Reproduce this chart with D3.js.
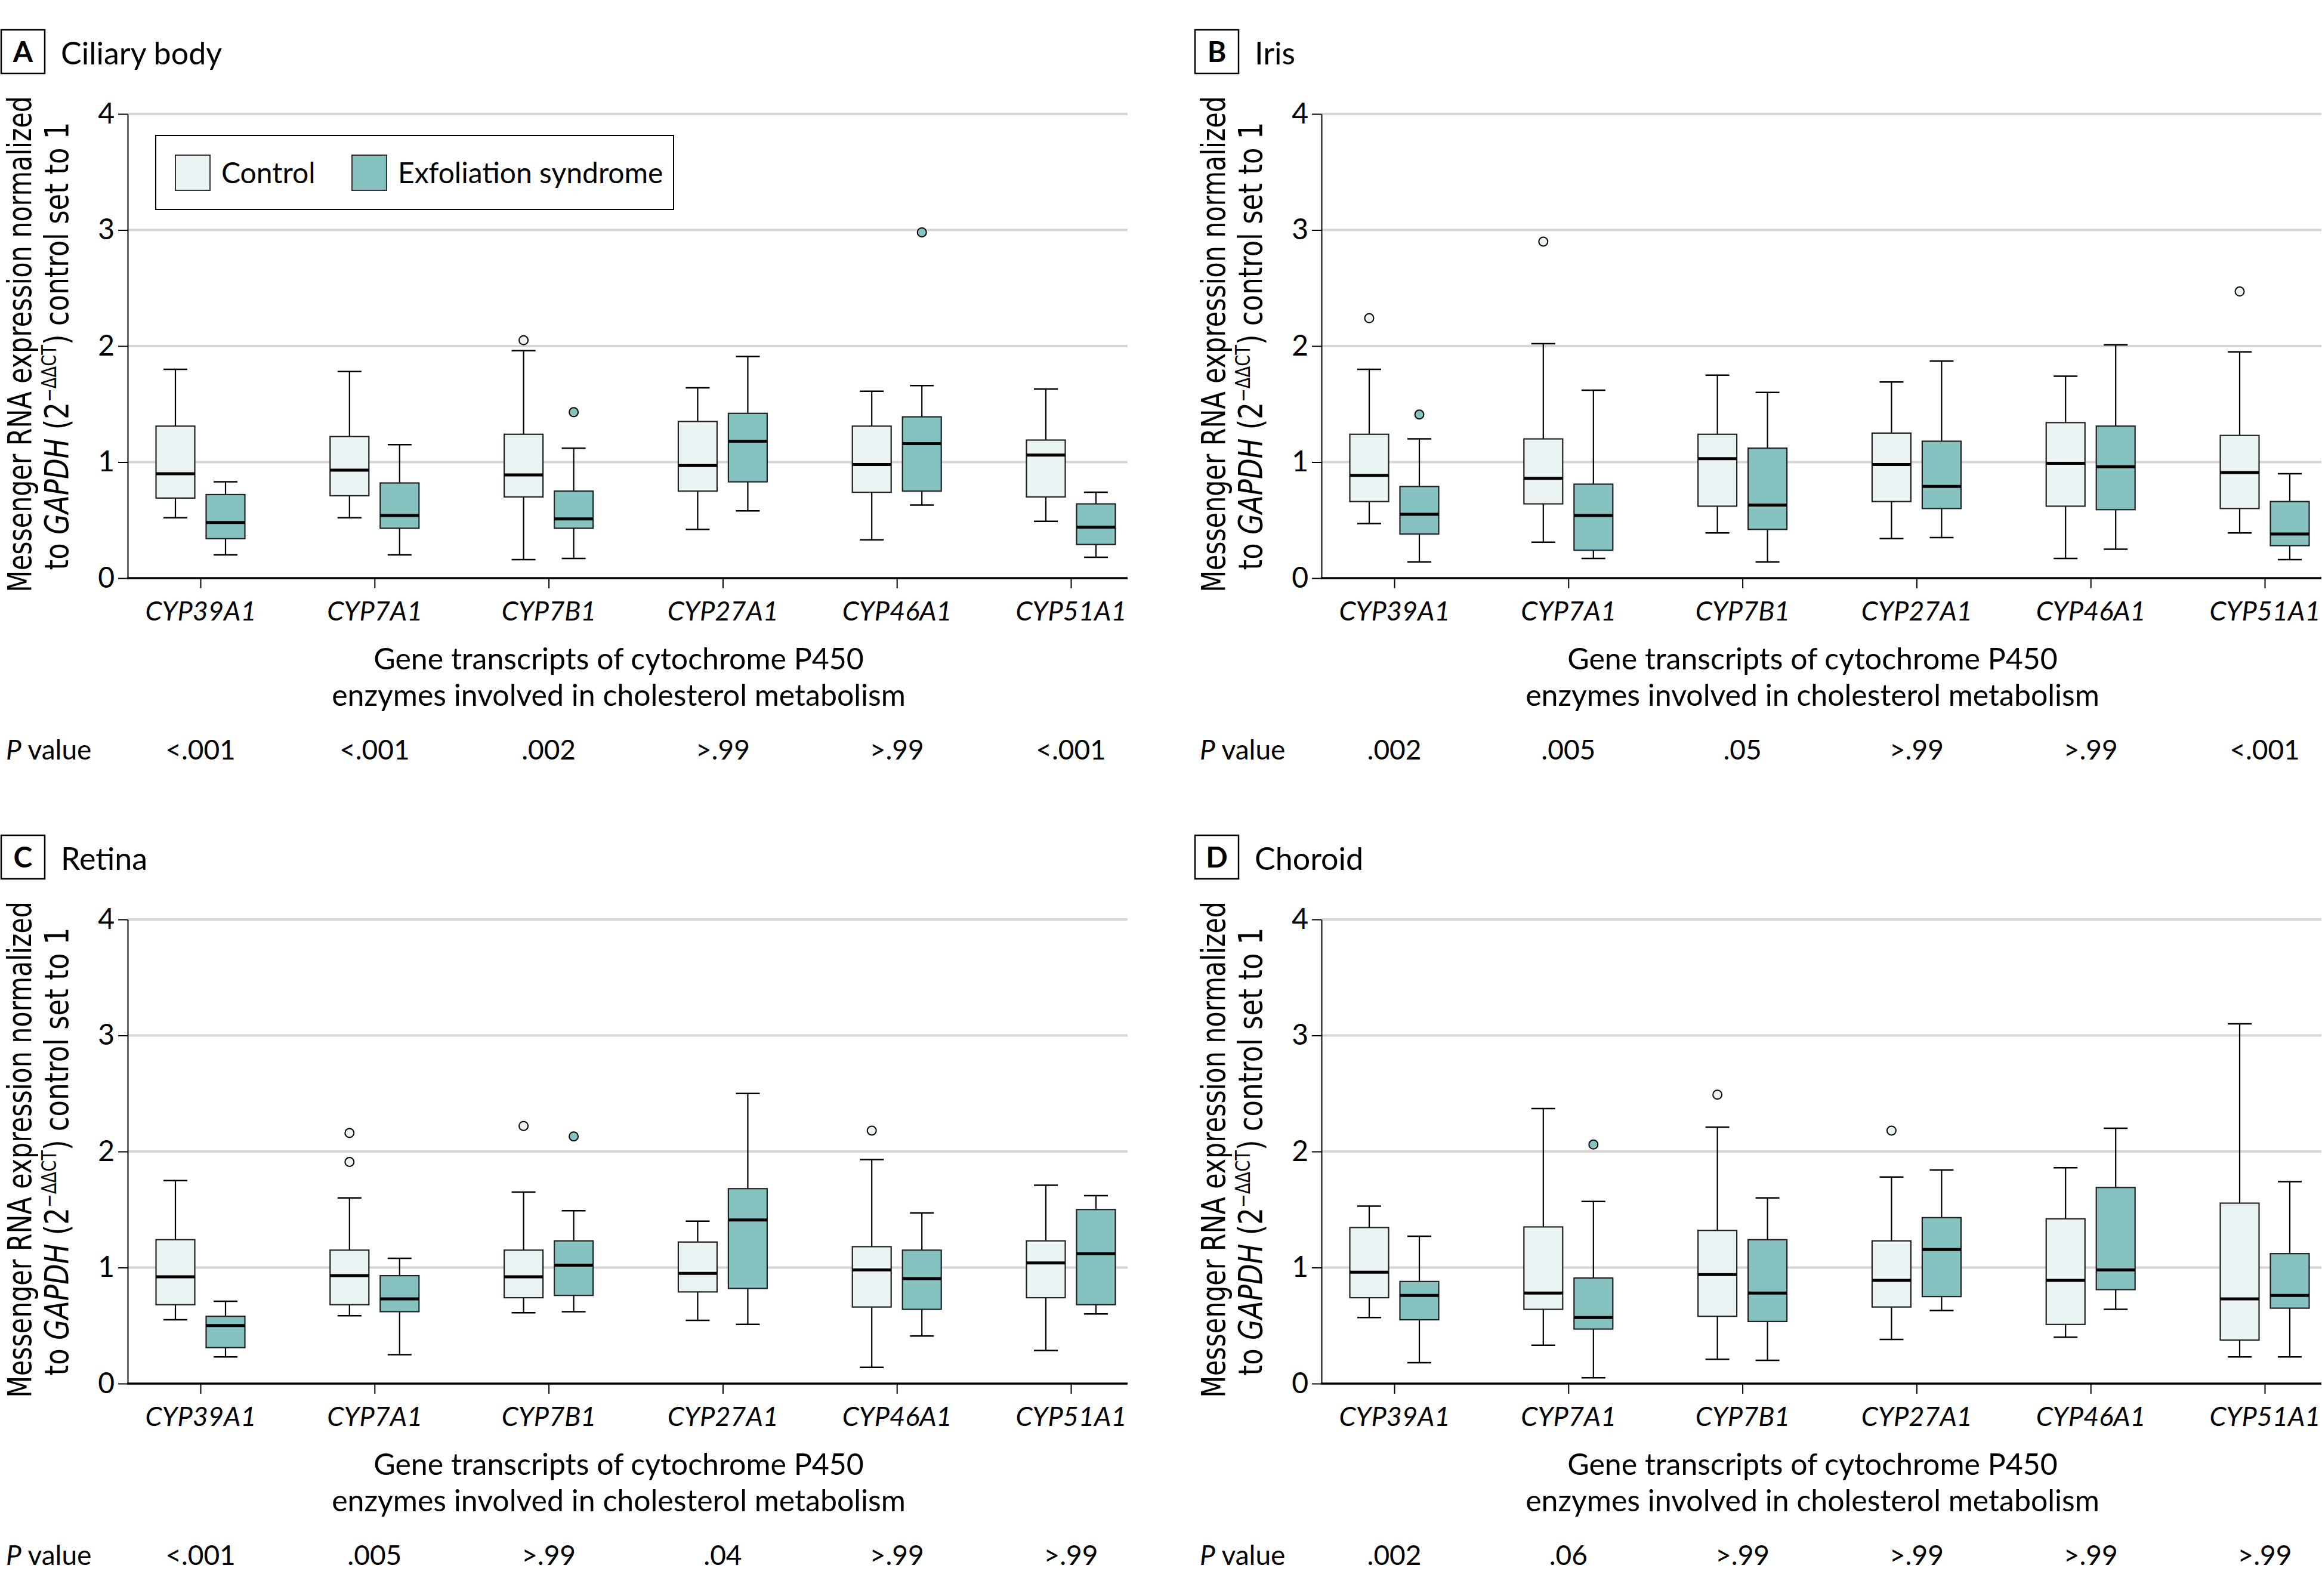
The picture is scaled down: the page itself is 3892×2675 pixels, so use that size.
<!DOCTYPE html>
<html><head><meta charset="utf-8">
<script src="https://cdn.jsdelivr.net/npm/d3@7"></script>
<style>
html,body{margin:0;padding:0;background:#fff;}
svg{display:block;}
text{font-family:Lato,"Liberation Sans",sans-serif;fill:#000;}
</style></head><body>
<svg id="chart" width="3892" height="2675"></svg>
<script>
// ---------- DATA ----------
const genes = ["CYP39A1","CYP7A1","CYP7B1","CYP27A1","CYP46A1","CYP51A1"];
const panelLetters = ["A","B","C","D"];
const panelTitles = ["Ciliary body","Iris","Retina","Choroid"];
const groupNames = ["Control","Exfoliation syndrome"];
const yTicks = [0,1,2,3,4];

// box stats: [min, q1, median, q3, max]
const ciliaryControl = [[0.52,0.69,0.90,1.31,1.80],[0.52,0.71,0.93,1.22,1.78],[0.16,0.70,0.89,1.24,1.96],[0.42,0.75,0.97,1.35,1.64],[0.33,0.74,0.98,1.31,1.61],[0.49,0.70,1.06,1.19,1.63]];
const ciliaryExfol   = [[0.20,0.34,0.48,0.72,0.83],[0.20,0.43,0.54,0.82,1.15],[0.17,0.43,0.51,0.75,1.12],[0.58,0.83,1.18,1.42,1.91],[0.63,0.75,1.16,1.39,1.66],[0.18,0.29,0.44,0.64,0.74]];
const ciliaryControlOutliers = [[],[],[2.05],[],[],[]];
const ciliaryExfolOutliers   = [[],[],[1.43],[],[2.98],[]];

const irisControl = [[0.47,0.66,0.885,1.24,1.80],[0.31,0.64,0.86,1.20,2.02],[0.39,0.62,1.03,1.24,1.75],[0.34,0.66,0.98,1.25,1.69],[0.17,0.62,0.99,1.34,1.74],[0.39,0.60,0.91,1.23,1.95]];
const irisExfol   = [[0.14,0.38,0.55,0.79,1.20],[0.17,0.24,0.54,0.81,1.62],[0.14,0.42,0.63,1.12,1.60],[0.35,0.60,0.79,1.18,1.87],[0.25,0.59,0.96,1.31,2.01],[0.16,0.28,0.38,0.66,0.90]];
const irisControlOutliers = [[2.24],[2.90],[],[],[],[2.47]];
const irisExfolOutliers   = [[1.41],[],[],[],[],[]];

const retinaControl = [[0.55,0.68,0.92,1.24,1.75],[0.585,0.68,0.93,1.15,1.60],[0.61,0.74,0.92,1.15,1.65],[0.545,0.79,0.95,1.22,1.40],[0.14,0.66,0.98,1.18,1.93],[0.285,0.74,1.04,1.23,1.71]];
const retinaExfol   = [[0.23,0.31,0.50,0.58,0.71],[0.25,0.62,0.73,0.93,1.08],[0.62,0.76,1.02,1.23,1.49],[0.51,0.82,1.41,1.68,2.50],[0.41,0.64,0.905,1.15,1.47],[0.60,0.68,1.12,1.50,1.62]];
const retinaControlOutliers = [[],[2.16,1.91],[2.22],[],[2.18],[]];
const retinaExfolOutliers   = [[],[],[2.13],[],[],[]];

const choroidControl = [[0.57,0.74,0.96,1.345,1.53],[0.33,0.64,0.78,1.35,2.37],[0.21,0.58,0.94,1.32,2.21],[0.38,0.66,0.89,1.23,1.78],[0.40,0.51,0.89,1.42,1.86],[0.23,0.375,0.73,1.555,3.10]];
const choroidExfol   = [[0.18,0.55,0.76,0.88,1.27],[0.05,0.47,0.57,0.91,1.57],[0.20,0.535,0.78,1.24,1.60],[0.63,0.75,1.155,1.43,1.84],[0.64,0.81,0.98,1.69,2.20],[0.23,0.65,0.76,1.12,1.74]];
const choroidControlOutliers = [[],[],[2.49],[2.18],[],[]];
const choroidExfolOutliers   = [[],[2.06],[],[],[],[]];

const ciliaryP = ["<.001","<.001",".002",">.99",">.99","<.001"];
const irisP    = [".002",".005",".05",">.99",">.99","<.001"];
const retinaP  = ["<.001",".005",">.99",".04",">.99",">.99"];
const choroidP = [".002",".06",">.99",">.99",">.99",">.99"];

// ---------- LAYOUT ----------
const svg = d3.select("#chart");
const colControl = "#eaf4f4", colExfol = "#86c2c0";
const panelOffsets = [[0,0],[2001,0],[0,1350],[2001,1350]];
const y = d3.scaleLinear().domain([0,4]).range([969,191]);
const x = d3.scalePoint().domain(genes).range([336,1795]);
const axisLeft = 214, axisRight = 1890;
const boxOff = 42, boxW = 65, capW = 40;

const panelData = [
  {ctrl:ciliaryControl, exf:ciliaryExfol, co:ciliaryControlOutliers, eo:ciliaryExfolOutliers, p:ciliaryP},
  {ctrl:irisControl, exf:irisExfol, co:irisControlOutliers, eo:irisExfolOutliers, p:irisP},
  {ctrl:retinaControl, exf:retinaExfol, co:retinaControlOutliers, eo:retinaExfolOutliers, p:retinaP},
  {ctrl:choroidControl, exf:choroidExfol, co:choroidControlOutliers, eo:choroidExfolOutliers, p:choroidP}
];

function fitRotated(sel, target){
  const len = sel.node().getComputedTextLength();
  return target/len;
}

panelData.forEach((pd, pi) => {
  const [ox, oy] = panelOffsets[pi];
  const g = svg.append("g").attr("transform", `translate(${ox},${oy})`);

  // panel label
  g.append("rect").attr("x",2).attr("y",50).attr("width",73).attr("height",73)
    .attr("fill","none").attr("stroke","#000").attr("stroke-width",2.5);
  g.append("text").attr("x",38.5).attr("y",104).attr("text-anchor","middle")
    .style("font-size","48px").style("font-weight","700").text(panelLetters[pi]);
  g.append("text").attr("x",102).attr("y",108).style("font-size","52px").text(panelTitles[pi]);

  // gridlines
  g.append("g").selectAll("line").data(yTicks.filter(t=>t>0)).join("line")
    .attr("x1",axisLeft).attr("x2",axisRight).attr("y1",d=>y(d)).attr("y2",d=>y(d))
    .attr("stroke","#d6d6d6").attr("stroke-width",4);

  // y axis
  const ya = g.append("g").attr("transform",`translate(${axisLeft},0)`)
    .call(d3.axisLeft(y).tickValues(yTicks).tickFormat(d3.format("d")).tickSize(16).tickSizeOuter(0).tickPadding(6));
  ya.select(".domain").attr("stroke","#000").attr("stroke-width",2);
  ya.selectAll(".tick line").attr("stroke","#000").attr("stroke-width",2);
  ya.selectAll(".tick text").style("font-size","48px").style("font-family","Lato, 'Liberation Sans', sans-serif").attr("fill","#000");

  // x axis
  const xa = g.append("g").attr("transform",`translate(0,${y(0)})`)
    .call(d3.axisBottom(x).tickSize(17).tickSizeOuter(0));
  xa.select(".domain").remove();
  xa.selectAll(".tick line").attr("stroke","#000").attr("stroke-width",2);
  xa.selectAll(".tick text").attr("y",71).attr("dy",0)
    .style("font-size","45px").style("font-style","italic")
    .style("font-family","Lato, 'Liberation Sans', sans-serif").attr("fill","#000");
  g.append("line").attr("x1",axisLeft-1).attr("x2",axisRight).attr("y1",y(0)).attr("y2",y(0))
    .attr("stroke","#000").attr("stroke-width",3.5);

  // x title
  g.append("text").attr("x",1037).attr("y",1122).attr("text-anchor","middle")
    .style("font-size","50px").text("Gene transcripts of cytochrome P450");
  g.append("text").attr("x",1037).attr("y",1183).attr("text-anchor","middle")
    .style("font-size","50px").text("enzymes involved in cholesterol metabolism");

  // P values
  const pt = g.append("text").attr("x",10).attr("y",1273).style("font-size","46px");
  pt.append("tspan").style("font-style","italic").text("P");
  pt.append("tspan").text(" value");
  g.append("g").selectAll("text").data(pd.p).join("text")
    .attr("x",(d,i)=>x(genes[i])).attr("y",1273).attr("text-anchor","middle")
    .style("font-size","46px").text(d=>d);

  // y label
  const yl1 = g.append("text").style("font-family","'DejaVu Sans', sans-serif").style("font-size","56px")
    .attr("text-anchor","middle").text("Messenger RNA expression normalized");
  const s1 = fitRotated(yl1, 832);
  yl1.attr("transform",`translate(52,577) rotate(-90) scale(${s1},1)`);
  const yl2 = g.append("text").style("font-family","'DejaVu Sans', sans-serif").style("font-size","56px")
    .attr("text-anchor","middle");
  yl2.append("tspan").text("to ");
  yl2.append("tspan").style("font-style","italic").text("GAPDH");
  yl2.append("tspan").text(" (2");
  yl2.append("tspan").attr("dy",-20).style("font-size","34px").text("\u2212\u0394\u0394CT");
  yl2.append("tspan").attr("dy",20).text(")");
  yl2.append("tspan").text(" control set to 1");
  const s2 = fitRotated(yl2, 751);
  yl2.attr("transform",`translate(114,580) rotate(-90) scale(${s2},1)`);

  // boxes
  const groups = [
    {stats:pd.ctrl, out:pd.co, off:-boxOff, fill:colControl},
    {stats:pd.exf, out:pd.eo, off:boxOff, fill:colExfol}
  ];
  groups.forEach(gr => {
    const bg = g.append("g");
    const items = genes.map((gene,i)=>({gene, s:gr.stats[i], o:gr.out[i]}));
    const cx = d => x(d.gene) + gr.off;
    bg.selectAll("line.wlo").data(items).join("line").attr("class","wlo")
      .attr("x1",cx).attr("x2",cx).attr("y1",d=>y(d.s[0])).attr("y2",d=>y(d.s[1]))
      .attr("stroke","#000").attr("stroke-width",2.2);
    bg.selectAll("line.whi").data(items).join("line").attr("class","whi")
      .attr("x1",cx).attr("x2",cx).attr("y1",d=>y(d.s[3])).attr("y2",d=>y(d.s[4]))
      .attr("stroke","#000").attr("stroke-width",2.2);
    bg.selectAll("line.clo").data(items).join("line").attr("class","clo")
      .attr("x1",d=>cx(d)-capW/2).attr("x2",d=>cx(d)+capW/2).attr("y1",d=>y(d.s[0])).attr("y2",d=>y(d.s[0]))
      .attr("stroke","#000").attr("stroke-width",2.5);
    bg.selectAll("line.chi").data(items).join("line").attr("class","chi")
      .attr("x1",d=>cx(d)-capW/2).attr("x2",d=>cx(d)+capW/2).attr("y1",d=>y(d.s[4])).attr("y2",d=>y(d.s[4]))
      .attr("stroke","#000").attr("stroke-width",2.5);
    bg.selectAll("rect").data(items).join("rect")
      .attr("x",d=>cx(d)-boxW/2).attr("width",boxW)
      .attr("y",d=>y(d.s[3])).attr("height",d=>y(d.s[1])-y(d.s[3]))
      .attr("fill",gr.fill).attr("stroke","#222").attr("stroke-width",2.2);
    bg.selectAll("line.med").data(items).join("line").attr("class","med")
      .attr("x1",d=>cx(d)-boxW/2).attr("x2",d=>cx(d)+boxW/2).attr("y1",d=>y(d.s[2])).attr("y2",d=>y(d.s[2]))
      .attr("stroke","#000").attr("stroke-width",5);
    const outs = items.flatMap(d=>d.o.map(v=>({gene:d.gene, v})));
    bg.selectAll("circle").data(outs).join("circle")
      .attr("cx",d=>x(d.gene)+gr.off).attr("cy",d=>y(d.v)).attr("r",7.5)
      .attr("fill",gr.fill).attr("stroke","#000").attr("stroke-width",2);
  });

  // legend (panel A only)
  if (pi === 0) {
    const lg = g.append("g");
    lg.append("rect").attr("x",261).attr("y",227).attr("width",868).attr("height",124)
      .attr("fill","#fff").attr("stroke","#000").attr("stroke-width",2);
    const lx = [294, 590];
    const lfill = [colControl, colExfol];
    groupNames.forEach((nm,i)=>{
      lg.append("rect").attr("x",lx[i]).attr("y",260).attr("width",58).attr("height",59)
        .attr("fill",lfill[i]).attr("stroke","#333").attr("stroke-width",2);
      lg.append("text").attr("x",lx[i]+77).attr("y",307).style("font-size","48px").text(nm);
    });
  }
});
</script>
</body></html>
